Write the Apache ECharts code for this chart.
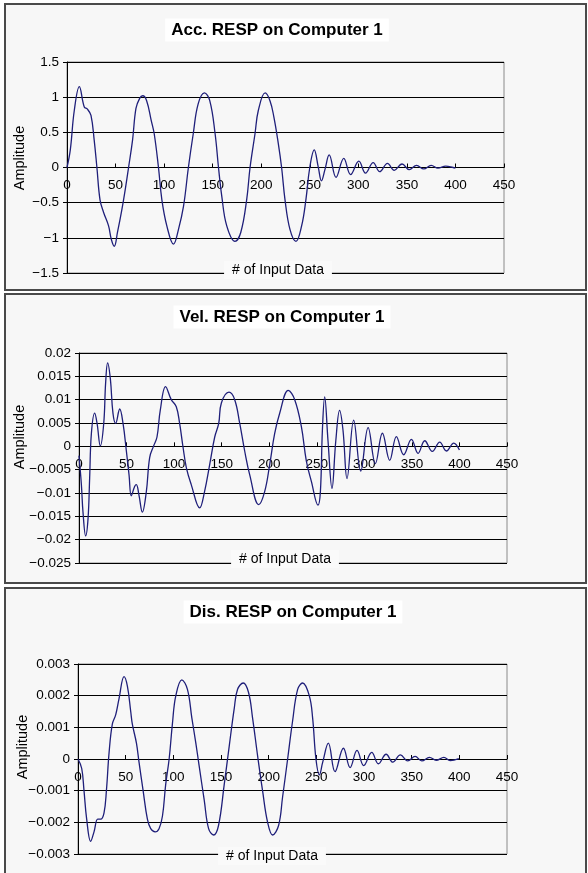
<!DOCTYPE html>
<html><head><meta charset="utf-8">
<script src="https://cdn.jsdelivr.net/npm/echarts@6/dist/echarts.min.js"></script>
<style>html,body{margin:0;padding:0;background:#fff}#c{width:588px;height:873px}</style>
</head><body><div id="c"></div>
<script>
// ---- data ----
const titles = ['Acc. RESP on Computer 1', 'Vel. RESP on Computer 1', 'Dis. RESP on Computer 1'];
const xAxisName = '# of Input Data';
const yAxisName = 'Amplitude';
const xTicks = [0, 450, 50];

const accX = [0,3.4,7.5,12.7,17.8,21,24.7,28,30.8,34,37.7,42.8,45.6,48.7,52,56.5,60,63.4,67.5,71,74.7,78,82,86.7,89.8,94.2,97.7,102.8,109.7,114.8,120,125,130,135,141.5,147,152.5,156,159.4,164.5,173,179,185,188.5,193.6,197,204,209,213,217.6,221,224.5,229.6,235.8,241.6,246,250,254.6,258.7,262,265.6,270,277,285,292,300.5,307.4,315.3,322,330,337,345,352.4,360,367.4,375,382,390,397.5,400];
const accY = [0,0.25,0.81,1.15,0.86,0.83,0.74,0.39,0,-0.46,-0.64,-0.83,-1.02,-1.12,-0.92,-0.6,-0.31,0,0.39,0.84,0.98,1.02,0.95,0.67,0.48,0,-0.46,-0.83,-1.09,-0.88,-0.55,0,0.48,0.9,1.06,0.95,0.48,0,-0.41,-0.83,-1.05,-0.92,-0.46,0,0.48,0.81,1.06,0.95,0.72,0.34,0,-0.46,-0.88,-1.05,-0.83,-0.46,0,0.25,0.01,-0.19,-0.03,0.18,-0.14,0.13,-0.10,0.09,-0.08,0.07,-0.06,0.06,-0.04,0.05,-0.03,0.03,-0.02,0.03,-0.01,0.02,0,-0.01];
const accTicks = [-1.5, 1.5, 0.5];

const velX = [0,2.5,4.2,7,9.5,11.2,13,16.5,19,22.4,26,28,30.1,33,35.7,38.5,42.8,46.3,49.8,52.6,55,58.5,60.3,63,66.6,70.8,74.3,78.5,82,85.5,91,97,102.3,105.8,109.4,112.9,118,126.9,132,137.4,142.7,146.9,149.7,157.7,163.7,169,174.2,179.5,189,195.2,200.5,205.7,211,220,226.8,233.8,239,244.3,251.3,253.8,255.9,258.3,261.8,266,270,274,277.6,281.8,288.8,296.2,304,311.6,319,326.7,333.7,341.4,349.5,356.5,363.5,371.5,379.3,386.3,394,400];
const velY = [-0.002,-0.0082,-0.0141,-0.0192,-0.0155,-0.0068,0.0027,0.0071,0.0049,0.0001,0.0049,0.0136,0.0179,0.0144,0.0071,0.0049,0.008,0.0049,-0.001,-0.0061,-0.0106,-0.0086,-0.0082,-0.0104,-0.0141,-0.0097,-0.0024,0.0001,0.002,0.0078,0.0128,0.01,0.0085,0.0049,-0.0002,-0.0046,-0.0082,-0.0132,-0.0097,-0.0039,0.002,0.0049,0.0093,0.0116,0.01,0.0049,-0.001,-0.0061,-0.0125,-0.0097,-0.0039,0.0027,0.0071,0.012,0.01,0.0042,-0.0031,-0.0075,-0.0126,-0.0097,0.0034,0.0106,0.0012,-0.009,0.0012,0.0077,0.0034,-0.0069,0.0056,-0.0053,0.004,-0.0037,0.0028,-0.003,0.0021,-0.0018,0.0015,-0.0015,0.0012,-0.0011,0.0009,-0.001,0.0007,-0.0008];
const velTicks = [-0.025, 0.02, 0.005];

const disX = [0,3.9,6.3,9.1,13.3,16.8,20.7,23.8,27.3,29.8,32.6,36,39.6,43,48.3,51.8,55.3,57,61.3,64,68.3,72.8,76.3,80.9,85,88.6,92,95.6,99,102.6,108.9,114.8,119.4,123.6,127,132.4,137,142.2,147.4,153.4,158.6,163.9,167.4,173.3,178.9,183.1,188.4,193.6,198.9,204.1,210.4,214.6,219.9,225.1,230.4,235.6,242.6,246.1,249.6,253.2,256.7,262.6,269.6,278.4,285.4,292.7,299.7,308.1,315.1,323.2,330.2,338.2,345.9,353.6,360.6,368.7,375.7,383.8,390.4,399.5];
const disY = [0,-0.0003,-0.001,-0.0019,-0.0026,-0.0023,-0.0019,-0.0019,-0.0017,-0.001,0.0002,0.0011,0.0014,0.0019,0.0026,0.0023,0.0015,0.0011,0.0005,-0.0001,-0.001,-0.0019,-0.0022,-0.0023,-0.0022,-0.0018,-0.0008,0,0.0011,0.002,0.0025,0.0022,0.0013,0.0005,-0.0002,-0.0013,-0.0022,-0.0024,-0.0021,-0.0008,0.0004,0.0016,0.0022,0.0024,0.0021,0.0013,0.0001,-0.001,-0.002,-0.0024,-0.0021,-0.0012,0,0.0012,0.0022,0.0024,0.002,0.0013,0,-0.0005,-0.0001,0.0005,-0.0004,0.00034,-0.00027,0.00027,-0.00021,0.00021,-0.00015,0.00015,-0.0001,0.00013,-0.00006,0.00008,-0.00006,0.00005,-0.00004,0.00005,-0.00005,0.00001];
const disTicks = [-0.003, 0.003, 0.001];

// ---- layout ----
const FONT = 'Arial, "Liberation Sans", sans-serif';
const panels = [
  {box:[5,4,581,286], grid:{left:67,top:62,width:437,height:211}, title:[277,30], xname:[278,270], yname:[20,158]},
  {box:[5,294,581,289], grid:{left:79,top:353,width:428,height:210}, title:[282,317], xname:[285,559], yname:[20,437]},
  {box:[5,588,581,290], grid:{left:78,top:664,width:429,height:190}, title:[293,612], xname:[272,856], yname:[23,747]}
];
const seriesX = [accX, velX, disX];
const seriesY = [accY, velY, disY];
const yTicks = [accTicks, velTicks, disTicks];

function fmt(v){
  if (Math.abs(v) < 1e-12) return '0';
  const s = String(Number(Math.abs(v).toFixed(6)));
  return (v < 0 ? '\u2212' : '') + s;
}

const grids = [], xAxes = [], yAxes = [], series = [], graphics = [];
panels.forEach((p, i) => {
  const t = yTicks[i];
  // horizontal axis crosses the vertical axis at value 0
  const zeroOffset = -p.grid.height * (0 - t[0]) / (t[1] - t[0]);
  grids.push(Object.assign({show:true, borderColor:'#8a8a8a', borderWidth:1, backgroundColor:'transparent', containLabel:false}, p.grid));
  xAxes.push({
    type:'value', gridIndex:i, min:xTicks[0], max:xTicks[1], interval:xTicks[2],
    position:'bottom', offset:zeroOffset,
    axisLine:{onZero:false, lineStyle:{color:'#000', width:1}},
    axisTick:{show:true, inside:true, length:4, lineStyle:{color:'#000'}},
    axisLabel:{color:'#000', fontFamily:FONT, fontSize:13.5, margin:11, showMinLabel:true, showMaxLabel:true},
    splitLine:{show:false}
  });
  yAxes.push({
    type:'value', gridIndex:i, min:t[0], max:t[1], interval:t[2],
    axisLine:{show:true, onZero:false, lineStyle:{color:'#000', width:1}},
    axisTick:{show:true, inside:false, length:4, lineStyle:{color:'#000'}},
    axisLabel:{color:'#000', fontFamily:FONT, fontSize:13.5, margin:8, formatter:fmt},
    splitLine:{show:true, lineStyle:{color:'#000', width:1}}
  });
  series.push({
    type:'line', xAxisIndex:i, yAxisIndex:i, smooth:0.4, showSymbol:false, symbol:'none',
    lineStyle:{color:'#1f1f7a', width:1.3}, z:5,
    data: seriesX[i].map((x, k) => [x, seriesY[i][k]])
  });
  graphics.push({type:'rect', z:-10, shape:{x:p.box[0], y:p.box[1], width:p.box[2], height:p.box[3]},
    style:{fill:'#f7f7f7', stroke:'#4a4a4a', lineWidth:2}});
  graphics.push({type:'text', z:100, x:p.title[0], y:p.title[1],
    style:{text:titles[i], fontFamily:FONT, fontWeight:'bold', fontSize:17, fill:'#000', textAlign:'center', textVerticalAlign:'middle',
      backgroundColor:'#fff', padding:[3,6]}});
  graphics.push({type:'text', z:100, x:p.xname[0], y:p.xname[1],
    style:{text:xAxisName, fontFamily:FONT, fontSize:14, fill:'#000', textAlign:'center', textVerticalAlign:'middle',
      backgroundColor:'#fafafa', padding:[2,8]}});
  graphics.push({type:'text', z:100, x:p.yname[0], y:p.yname[1], rotation:Math.PI/2,
    style:{text:yAxisName, fontFamily:FONT, fontSize:14.5, fill:'#000', textAlign:'center', textVerticalAlign:'middle'}});
});

const chart = echarts.init(document.getElementById('c'), null, {renderer:'canvas'});
chart.setOption({
  animation:false,
  backgroundColor:'#fff',
  grid:grids, xAxis:xAxes, yAxis:yAxes, series:series,
  graphic:{elements:graphics}
});
</script></body></html>
